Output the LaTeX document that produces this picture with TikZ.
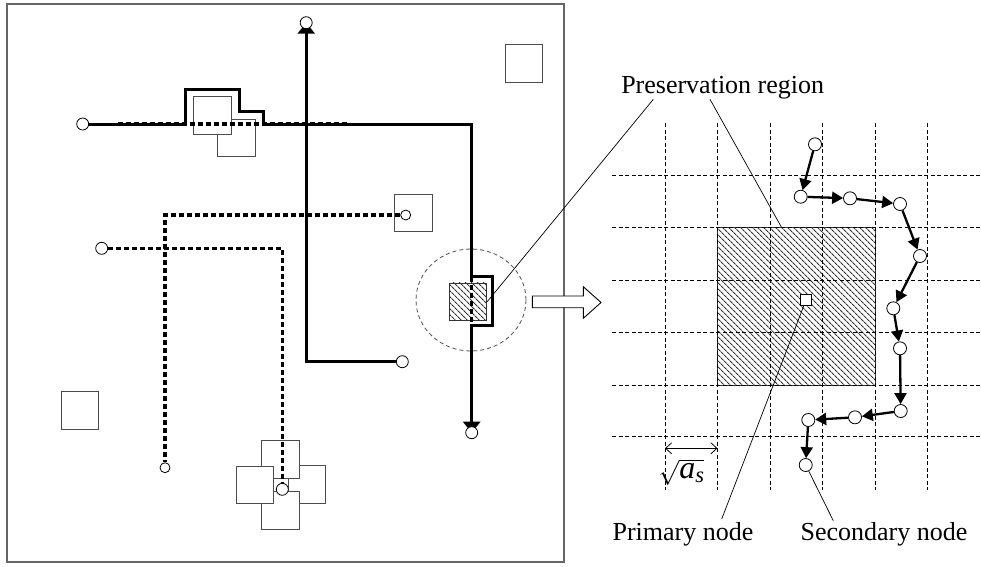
\documentclass[tikz,border=0pt]{standalone}
\usepackage{fontspec}
\setmainfont{Liberation Serif}
\usetikzlibrary{arrows.meta,patterns.meta,backgrounds}

\begin{document}
\begin{tikzpicture}[x=1pt,y=-1pt,
  route/.style={line width=3pt},
  oldroute/.style={line width=3.4pt,dash pattern=on 5pt off 3pt},
  bigtip/.style={-{Triangle[length=11pt,width=17pt]}},
  pnt/.style={circle,draw,line width=0.8pt,fill=white,inner sep=0pt,minimum size=12pt},
  smallpnt/.style={pnt,minimum size=10pt},
  hopnt/.style={pnt,minimum size=13pt},
  obst/.style={draw=black!70,line width=0.9pt,fill=white,inner sep=0pt,minimum size=37.5pt},
  hatch/.style={draw=black!80,inner sep=0pt,pattern={Lines[angle=-45,distance=4pt,line width=1.1pt]},pattern color=black!80},
  gridline/.style={line width=0.6pt,dash pattern=on 4pt off 2.5pt},
  hop/.style={line width=2.3pt,-{Triangle[length=11pt,width=12pt]}},
  leader/.style={line width=0.7pt},
  lbl/.style={font=\fontsize{26}{30}\selectfont,inner sep=0pt,anchor=base}]
\useasboundingbox (0,0) rectangle (981,566);
\draw[black!60,line width=1.2pt] (7,4) rectangle (564,562);

\node[pnt] (a) at (82.7,124) {};
\node[pnt] (b) at (306.2,22.7) {};
\node[pnt] (c) at (101.7,248.3) {};
\node[smallpnt] (d) at (405.7,215) {};
\node[pnt] (e) at (402.3,361.7) {};
\node[pnt] (f) at (471.7,432.7) {};
\node[smallpnt] (g) at (165,467.7) {};
\node[pnt] (h) at (282.3,489.3) {};

\begin{scope}[on background layer]
\node[obst] (q1) at (523.9,63.2) {};
\node[obst] (q3) at (236.3,137.9) {};
\node[obst] (q2) at (212.5,115.5) {};
\node[obst] (q4) at (413.3,212.9) {};
\node[obst] (q5) at (79.9,410.2) {};
\node[obst] (qr) at (307,484.5) {};
\node[obst] (qb) at (280.5,510.5) {};
\node[obst] (qt) at (280.5,459.5) {};
\node[obst] (ql) at (254.9,485) {};
\node[hatch,minimum size=37.5pt] (zone) at (467.9,301.7) {};
\draw[black!70,line width=0.8pt,dash pattern=on 4pt off 3pt] (471,300) ellipse [x radius=55,y radius=51];

\draw[route,bigtip] (a) -- (185,124) -- (185,89.3) -- (239,89.3) -- (239,111.7) -- (263.3,111.7) -- (263.3,124) -- (471.7,124) -- (471.7,276.7) -- (492.3,276.7) -- (492.3,325) -- (471.7,325) -- (f.center);
\draw[route,bigtip] (e) -- (306.2,361.7) -- (b.center);
\draw[oldroute] (118,124) -- (347,124);
\draw[oldroute] (471.7,276.7) -- (471.7,325);
\draw[oldroute] (d) -- (165,215) -- (g);
\draw[oldroute] (c) -- (282.3,248.3) -- (h);
\end{scope}

\draw[fill=white,line width=0.9pt] (532.3,296) -- (583.3,296) -- (583.3,286.7) -- (601,302.5) -- (583.3,318.3) -- (583.3,307.7) -- (532.3,307.7) -- cycle;

\node[hatch,line width=0.9pt,minimum size=157.5pt] (zoneR) at (796.25,306.35) {};

\draw[gridline] (665,123) -- (665,490);
\draw[gridline] (717.5,123) -- (717.5,490);
\draw[gridline] (770,123) -- (770,490);
\draw[gridline] (822.5,123) -- (822.5,490);
\draw[gridline] (875,123) -- (875,490);
\draw[gridline] (927.5,123) -- (927.5,490);
\draw[gridline] (612,175.7) -- (981,175.7);
\draw[gridline] (612,227.7) -- (981,227.7);
\draw[gridline] (612,280) -- (981,280);
\draw[gridline] (612,332.3) -- (981,332.3);
\draw[gridline] (612,385) -- (981,385);
\draw[gridline] (612,436.7) -- (981,436.7);

\node[draw,line width=0.8pt,fill=white,minimum size=11pt,inner sep=0pt] (pnode) at (806,300) {};

\node[hopnt] (s1) at (815,144.3) {};
\node[hopnt] (s2) at (800.7,196.7) {};
\node[hopnt] (s3) at (850,198.3) {};
\node[hopnt] (s4) at (900,204) {};
\node[hopnt] (s5) at (920,256) {};
\node[hopnt] (s6) at (893.3,308.3) {};
\node[hopnt] (s7) at (900,348.3) {};
\node[hopnt] (s8) at (900.7,411) {};
\node[hopnt] (s9) at (855,417.3) {};
\node[hopnt] (s10) at (808.3,420) {};
\node[hopnt] (s11) at (805.7,465) {};
\draw[hop] (s1) -- (s2);
\draw[hop] (s2) -- (s3);
\draw[hop] (s3) -- (s4);
\draw[hop] (s4) -- (s5);
\draw[hop] (s5) -- (s6);
\draw[hop] (s6) -- (s7);
\draw[hop] (s7) -- (s8);
\draw[hop] (s8) -- (s9);
\draw[hop] (s9) -- (s10);
\draw[hop] (s10) -- (s11);

\coordinate (w1) at (665,448.3);
\coordinate (w2) at (717.5,448.3);
\draw[line width=0.8pt,{Straight Barb[length=6pt,width=11pt]}-{Straight Barb[length=6pt,width=11pt]}] (w1) -- (w2);
\node[font=\fontsize{32}{36}\selectfont,inner sep=0pt] (side) at (681.5,472) {$\sqrt{\mathit{a}_{\mathit{s}}}$};

\node[lbl] (preslbl) at (722.7,93.3) {Preservation region};
\node[lbl] (primlbl) at (683,540.7) {Primary node};
\node[lbl] (seclbl) at (884,540.7) {Secondary node};

\coordinate (pl1) at (653.3,99.3);
\coordinate (pl2) at (710,99.3);
\coordinate (zt) at (781.7,227.7);
\coordinate (pe) at (721.7,519);
\coordinate (se) at (833.3,520.7);
\draw[leader] (pl1) -- (zone.east);
\draw[leader] (pl2) -- (zt);
\draw[leader] (pnode) -- (pe);
\draw[leader] (s11) -- (se);
\end{tikzpicture}
\end{document}
